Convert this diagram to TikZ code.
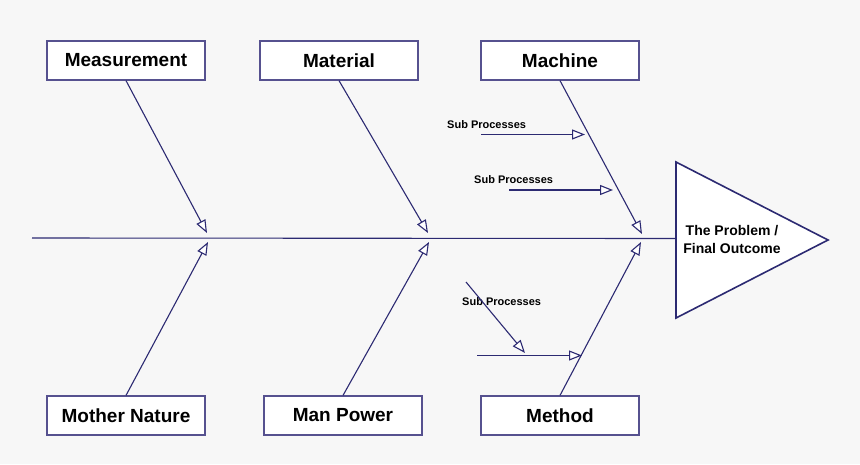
\documentclass[tikz,border=0pt]{standalone}
\usepackage{fontspec}
\setmainfont{Liberation Sans}
\usetikzlibrary{arrows.meta}
\definecolor{bg}{HTML}{F7F7F7}
\definecolor{ink}{HTML}{2C2A72}
\definecolor{boxline}{HTML}{56518F}
\tikzset{
  catbox/.style={draw=boxline, line width=1.2pt, fill=white, minimum width=158pt, minimum height=39pt, inner sep=0pt, font=\fontsize{19}{21}\selectfont\bfseries, text=black},
  bone/.style={draw=ink, line width=1.1pt, -{Triangle[open, fill=white, length=13pt, width=10pt, line width=1.1pt]}},
  sublabel/.style={font=\fontsize{11}{13}\selectfont\bfseries, anchor=west, inner sep=0pt, text=black},
}
\begin{document}
\begin{tikzpicture}[x=1pt,y=-1pt]
\fill[bg] (0,0) rectangle (860,464);
\useasboundingbox (0,0) rectangle (860,464);
% category boxes
\node[catbox] (meas) at (126,60.5) {Measurement};
\node[catbox] (mat) at (339,60.5) {Material};
\node[catbox] (mach) at (560,60.5) {Machine};
\node[catbox] (moth) at (126,415.5) {Mother Nature};
\node[catbox] (man) at (343,415.5) {Man Power};
\node[catbox] (meth) at (560,415.5) {Method};
% head
\coordinate (ta) at (676,162);
\coordinate (tb) at (828,240);
\coordinate (tc) at (676,318);
\draw[draw=ink, line width=1.6pt, fill=white, line join=miter] (ta) -- (tb) -- (tc) -- cycle;
\node[font=\fontsize{14}{18}\selectfont\bfseries, align=center, text=black] (prob) at (732,239.5) {The Problem /\\Final Outcome};
% spine
\coordinate (s0) at (32,238);
\coordinate (s1) at (676,238.5);
\draw[draw=ink, line width=1.1pt] (s0) -- (s1);
% bone endpoints
\coordinate (e1) at (207,233);
\coordinate (e2) at (428,233);
\coordinate (e3) at (642,234);
\coordinate (e4) at (208,242);
\coordinate (e5) at (429,242);
\coordinate (e6) at (641,242);
\draw[bone] (meas.south) -- (e1);
\draw[bone] (mat.south) -- (e2);
\draw[bone] (mach.south) -- (e3);
\draw[bone] (moth.north) -- (e4);
\draw[bone] (man.north) -- (e5);
\draw[bone] (meth.north) -- (e6);
% sub processes
\node[sublabel] (sp1) at (447,125) {Sub Processes};
\node[sublabel] (sp2) at (474,180) {Sub Processes};
\node[sublabel] (sp3) at (462,302) {Sub Processes};
\coordinate (a1s) at (481,134.5);
\coordinate (a1e) at (585,134.5);
\coordinate (a2s) at (509,190);
\coordinate (a2e) at (613,190);
\coordinate (a3s) at (477,355.5);
\coordinate (a3e) at (582,355.5);
\coordinate (a4s) at (466,282);
\coordinate (a4e) at (525,353);
\draw[bone] (a1s) -- (a1e);
\draw[bone] (a2s) -- (a2e);
\draw[bone] (a3s) -- (a3e);
\draw[bone] (a4s) -- (a4e);
\end{tikzpicture}
\end{document}
